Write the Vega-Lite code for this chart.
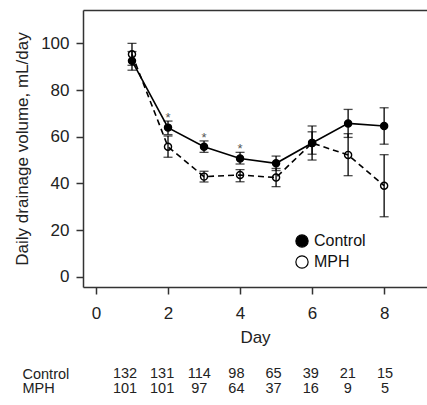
{
  "$schema": "https://vega.github.io/schema/vega-lite/v6.json",
  "padding": {"left": 13, "top": 10, "right": 0, "bottom": 3},
  "config": {
    "font": "Liberation Sans",
    "view": {"stroke": null},
    "axis": {
      "grid": false,
      "labelColor": "#222",
      "titleColor": "#222",
      "titleFontWeight": "normal",
      "labelFontSize": 17,
      "titleFontSize": 17,
      "domainColor": "#333",
      "tickColor": "#333",
      "domainWidth": 1.5,
      "tickWidth": 1.5,
      "tickSize": 7
    },
    "legend": {"labelFontSize": 16, "labelColor": "#111"}
  },
  "datasets": {
    "series": [
      {"group": "Control", "day": 1, "mean": 92.5, "lo": 88.5, "hi": 96.5, "sig": false},
      {"group": "Control", "day": 2, "mean": 63.9, "lo": 60.9, "hi": 66.7, "sig": true},
      {"group": "Control", "day": 3, "mean": 55.7, "lo": 53.3, "hi": 58.2, "sig": true},
      {"group": "Control", "day": 4, "mean": 50.7, "lo": 48.3, "hi": 53.3, "sig": true},
      {"group": "Control", "day": 5, "mean": 48.6, "lo": 45.5, "hi": 51.7, "sig": false},
      {"group": "Control", "day": 6, "mean": 57.3, "lo": 52.5, "hi": 62.1, "sig": false},
      {"group": "Control", "day": 7, "mean": 65.7, "lo": 59.7, "hi": 71.7, "sig": false},
      {"group": "Control", "day": 8, "mean": 64.6, "lo": 56.8, "hi": 72.4, "sig": false},
      {"group": "MPH", "day": 1, "mean": 95.3, "lo": 90.6, "hi": 100.0, "sig": false},
      {"group": "MPH", "day": 2, "mean": 55.7, "lo": 51.2, "hi": 60.3, "sig": false},
      {"group": "MPH", "day": 3, "mean": 42.9, "lo": 40.6, "hi": 45.2, "sig": false},
      {"group": "MPH", "day": 4, "mean": 43.6, "lo": 40.7, "hi": 45.9, "sig": false},
      {"group": "MPH", "day": 5, "mean": 42.5, "lo": 38.6, "hi": 46.4, "sig": false},
      {"group": "MPH", "day": 6, "mean": 57.3, "lo": 50.0, "hi": 64.6, "sig": false},
      {"group": "MPH", "day": 7, "mean": 52.2, "lo": 43.3, "hi": 61.3, "sig": false},
      {"group": "MPH", "day": 8, "mean": 39.0, "lo": 25.7, "hi": 52.3, "sig": false}
    ],
    "table": [
      {"row": "Control", "day": 1, "n": 132},
      {"row": "Control", "day": 2, "n": 131},
      {"row": "Control", "day": 3, "n": 114},
      {"row": "Control", "day": 4, "n": 98},
      {"row": "Control", "day": 5, "n": 65},
      {"row": "Control", "day": 6, "n": 39},
      {"row": "Control", "day": 7, "n": 21},
      {"row": "Control", "day": 8, "n": 15},
      {"row": "MPH", "day": 1, "n": 101},
      {"row": "MPH", "day": 2, "n": 101},
      {"row": "MPH", "day": 3, "n": 97},
      {"row": "MPH", "day": 4, "n": 64},
      {"row": "MPH", "day": 5, "n": 37},
      {"row": "MPH", "day": 6, "n": 16},
      {"row": "MPH", "day": 7, "n": 9},
      {"row": "MPH", "day": 8, "n": 5}
    ]
  },
  "spacing": 21,
  "vconcat": [
    {
      "width": 344,
      "height": 277,
      "data": {"name": "series"},
      "resolve": {"axis": {"x": "independent"}},
      "layer": [
        {
          "transform": [{"filter": "datum.group === 'Control'"}],
          "mark": {"type": "line", "color": "black", "strokeWidth": 1.6},
          "encoding": {
            "x": {"field": "day", "type": "quantitative",
                  "scale": {"domain": [-0.36, 9.19], "nice": false, "zero": false},
                  "axis": {"values": [0, 2, 4, 6, 8], "title": "Day", "labelPadding": 11, "titlePadding": 8}},
            "y": {"field": "mean", "type": "quantitative", "title": "Daily drainage volume, mL/day",
                  "scale": {"domain": [-4.4, 114.3], "nice": false, "zero": false},
                  "axis": {"values": [0, 20, 40, 60, 80, 100], "labelPadding": 7, "titlePadding": 9}}
          }
        },
        {
          "transform": [{"filter": "datum.group === 'MPH'"}],
          "mark": {"type": "line", "color": "black", "strokeWidth": 1.6, "strokeDash": [6, 4]},
          "encoding": {
            "x": {"field": "day", "type": "quantitative", "axis": null},
            "y": {"field": "mean", "type": "quantitative", "title": "Daily drainage volume, mL/day"}
          }
        },
        {
          "mark": {"type": "point", "opacity": 0},
          "encoding": {
            "x": {"field": "day", "type": "quantitative",
                  "axis": {"orient": "top", "labels": false, "ticks": false, "title": null, "domain": true}},
            "y": {"field": "mean", "type": "quantitative", "title": "Daily drainage volume, mL/day"}
          }
        },
        {
          "mark": {"type": "errorbar", "ticks": {"size": 9, "thickness": 1.3, "color": "black"}, "rule": {"strokeWidth": 1.3, "color": "black"}},
          "encoding": {
            "x": {"field": "day", "type": "quantitative", "axis": null},
            "y": {"field": "lo", "type": "quantitative", "title": "Daily drainage volume, mL/day"},
            "y2": {"field": "hi"}
          }
        },
        {
          "mark": {"type": "point", "shape": "circle", "filled": true, "stroke": "black", "strokeWidth": 1.4, "opacity": 1, "size": 50},
          "encoding": {
            "x": {"field": "day", "type": "quantitative", "axis": null},
            "y": {"field": "mean", "type": "quantitative", "title": "Daily drainage volume, mL/day"},
            "fill": {"field": "group", "type": "nominal",
                     "scale": {"domain": ["Control", "MPH"], "range": ["black", "transparent"]},
                     "legend": {"title": null, "orient": "none", "legendX": 211, "legendY": 223,
                                "symbolSize": 150, "symbolStrokeColor": "black", "symbolStrokeWidth": 1.2,
                                "labelOffset": 4, "rowPadding": 3, "padding": 0}}
          }
        },
        {
          "transform": [{"filter": "datum.sig"}],
          "mark": {"type": "text", "text": "*", "fontSize": 13, "color": "#555", "baseline": "alphabetic", "dy": 1},
          "encoding": {
            "x": {"field": "day", "type": "quantitative", "axis": null},
            "y": {"field": "hi", "type": "quantitative", "title": "Daily drainage volume, mL/day"}
          }
        }
      ]
    },
    {
      "width": 344,
      "height": 29,
      "data": {"name": "table"},
      "mark": {"type": "text", "fontSize": 14.5, "color": "#222", "align": "center"},
      "encoding": {
        "x": {"field": "day", "type": "quantitative",
              "scale": {"domain": [-0.13, 9.13], "nice": false, "zero": false}, "axis": null},
        "y": {"field": "row", "type": "nominal", "sort": ["Control", "MPH"],
              "scale": {"paddingInner": 0, "paddingOuter": 0},
              "axis": {"title": null, "domain": false, "ticks": false, "labelAlign": "left",
                       "labelPadding": 61, "labelFontSize": 14.5}},
        "text": {"field": "n"}
      }
    }
  ]
}
